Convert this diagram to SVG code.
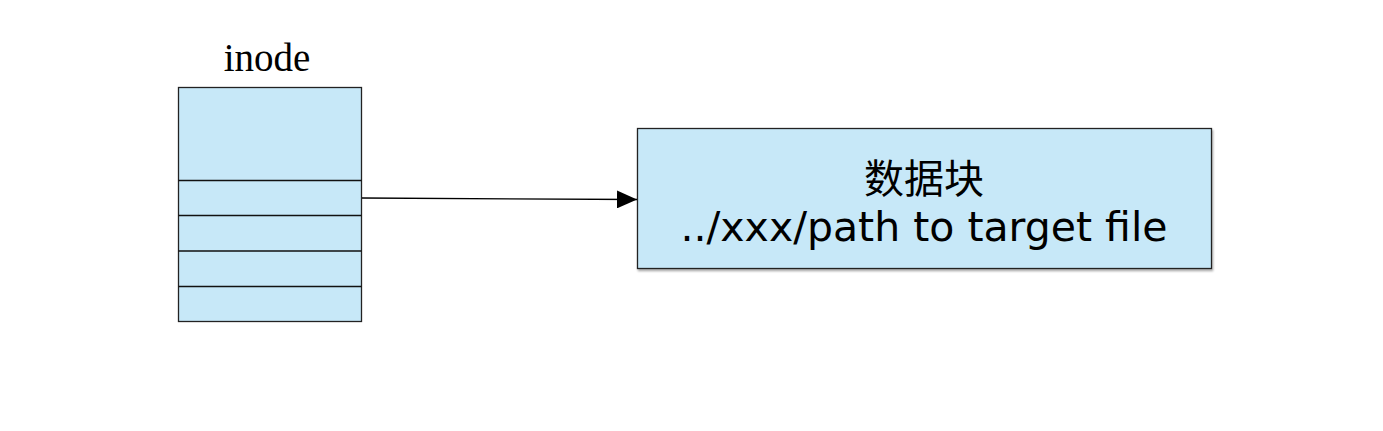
<svg xmlns="http://www.w3.org/2000/svg" width="1383" height="431" viewBox="0 0 1383 431">
<style>
.box{fill:#C7E8F8;stroke:#222;stroke-width:1.3}
.ln{stroke:#111;stroke-width:1.3}
.conn{stroke:#000;stroke-width:1.3;fill:none}
.t{font-family:"DejaVu Sans","Noto Sans CJK SC",sans-serif;fill:#000;text-anchor:middle}
</style>
<defs>
<marker id="arr" markerWidth="20" markerHeight="18" refX="20" refY="9" orient="auto" markerUnits="userSpaceOnUse">
<path d="M0,0 L20,9 L0,18 Z" fill="#000"/>
</marker>
<filter id="sh" x="-5%" y="-5%" width="110%" height="120%">
<feDropShadow dx="1" dy="2" stdDeviation="1.2" flood-color="#000" flood-opacity="0.35"/>
</filter>
</defs>
<rect width="1383" height="431" fill="#fff"/>
<g id="inode">
<text x="267" y="71" font-family="Liberation Serif,serif" font-size="39" text-anchor="middle">inode</text>
<rect class="box" x="178.5" y="87.5" width="183" height="234"/>
<line class="ln" x1="178.5" y1="180.5" x2="361.5" y2="180.5"/>
<line class="ln" x1="178.5" y1="215.5" x2="361.5" y2="215.5"/>
<line class="ln" x1="178.5" y1="251" x2="361.5" y2="251"/>
<line class="ln" x1="178.5" y1="286.5" x2="361.5" y2="286.5"/>
</g>
<g id="datablock">
<rect class="box" x="637.5" y="128.5" width="574" height="140" filter="url(#sh)"/>
<text class="t" x="924" y="193" font-size="40">数据块</text>
<text class="t" x="924" y="241" font-size="41">../xxx/path to target file</text>
</g>
<g id="connectors">
<path class="conn" d="M362,198 L637,199.5" marker-end="url(#arr)"/>
</g>
</svg>
